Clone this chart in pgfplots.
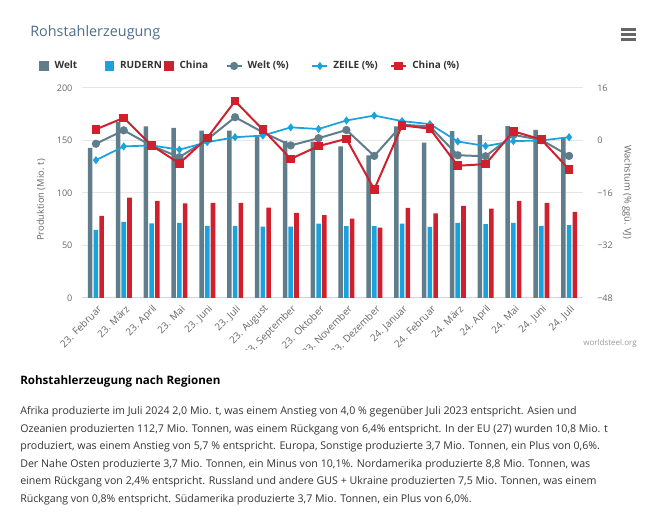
\documentclass[border=0pt]{standalone}
\usepackage{fontspec}
\setmainfont{Open Sans}
\usepackage{pgfplots}
\usepackage{pgfplotstable}
\pgfplotsset{compat=1.18}

\definecolor{welt}{HTML}{607D8B}
\definecolor{rudern}{HTML}{1BA1DB}
\definecolor{china}{HTML}{D0202E}
\definecolor{gridc}{HTML}{E6E6E6}
\definecolor{axisc}{HTML}{CCD6EB}
\definecolor{tickc}{HTML}{666666}
\definecolor{titlec}{HTML}{4D6D8A}
\definecolor{textc}{HTML}{333333}

% monthly production (Mio. t) and growth vs. previous year (%)
\pgfplotstableread{
i welt rudern china weltp zeilep chinap
1  143.0 64.8 78.2 -1.0 -6.0  3.4
2  167.5 72.6 95.6  3.1 -1.8  6.9
3  163.5 71.0 92.5 -1.6 -1.5 -1.5
4  162.0 71.6 90.0 -5.1 -2.8 -7.0
5  159.5 68.8 90.6  0.3 -0.5  0.8
6  159.5 68.8 90.6  7.1  1.0 12.0
7  154.0 67.9 86.0  2.5  1.5  3.3
8  149.5 67.9 81.1 -1.5  4.0 -5.6
9  149.0 70.9 79.0  0.7  3.5 -1.7
10 144.4 68.5 75.7  3.2  6.1  0.5
11 135.8 68.5 66.9 -4.7  7.6 -14.9
12 163.5 70.9 85.9  4.8  5.9  4.6
13 148.0 67.8 80.5  4.3  5.0  3.6
14 159.0 71.6 87.7 -4.5 -0.3 -7.7
15 155.0 70.4 85.2 -4.8 -1.7 -7.2
16 163.8 71.6 92.5  1.7 -0.2  2.8
17 160.2 68.6 90.6  0.2  0.0  0.3
18 152.4 69.3 82.1 -4.7  1.0 -8.8
}\data

\pgfplotsset{
  common/.style={
    at={(61.5pt,174.75pt)}, anchor=south west,
    scale only axis, width=375.75pt, height=157.5pt,
    xmin=0.5, xmax=18.5,
    tick style={draw=none}, major tick length=0pt,
    y axis line style={draw=none},
    yticklabel style={font=\fontsize{6.8}{8}\selectfont, text=tickc, inner sep=0pt},
  },
  squareleg/.style={legend image code/.code={\fill[#1] (0pt,-3.2pt) rectangle (6.4pt,3.2pt); \path (11.25pt,0pt);}},
  mylineleg/.style={legend image code/.code={%
    \draw[mark repeat=2, mark phase=2, ##1] plot coordinates {(0pt,0pt) (5.6pt,0pt) (11.25pt,0pt)};
    \path (15pt,0pt);}},
}

\begin{document}
\begin{tikzpicture}[x=0.75pt,y=0.75pt]
\path[use as bounding box] (0,0) rectangle (662,531);

% header
\node[anchor=base west, inner sep=0pt, text=titlec, font=\fontsize{10.8}{12}\selectfont] at (30,494) {Rohstahlerzeugung};
\fill[tickc] (621,490.2) rectangle (636,492.6);
\fill[tickc] (621,495.3) rectangle (636,497.7);
\fill[tickc] (621,500.4) rectangle (636,502.8);

% bars, left axis
\begin{axis}[common,
    ymin=0, ymax=200,
    ybar=0.9pt, bar width=3.4pt,
    ytick={0,50,100,150,200}, yticklabels={0,50,100,150,200},
    ymajorgrids, grid style={gridc, line width=0.75pt},
    axis x line*=bottom, x axis line style={-, draw=axisc, line width=0.75pt},
    axis y line*=left,
    yticklabel style={anchor=east, xshift=-7pt},
    xtick={1,...,18},
    xticklabels={23. Februar,23. März,23. April,23. Mai,23. Juni,23. Juli,23. August,23. September,23. Oktober,23. November,23. Dezember,24. Januar,24. Februar,24. März,24. April,24. Mai,24. Juni,24. Juli},
    xticklabel style={xshift=3pt, yshift=-7pt, rotate=45, anchor=east, inner sep=0pt,
      font=\fontsize{7.4}{9}\selectfont, text=tickc},
    every axis y label/.style={at={(axis description cs:-0.0818,0.467)}, rotate=90, anchor=center},
    ylabel={Produktion (Mio. t)},
    ylabel style={font=\fontsize{7}{8}\selectfont, text=tickc},
  ]
  \addplot[fill=welt, draw=none] table[x=i, y=welt] {\data};
  \addplot[fill=rudern, draw=none] table[x=i, y=rudern] {\data};
  \addplot[fill=china, draw=none] table[x=i, y=china] {\data};
\end{axis}

% growth lines, right axis
\begin{axis}[common,
    ymin=-48, ymax=16,
    axis x line=none,
    axis y line*=right,
    ytick={-48,-32,-16,0,16}, yticklabels={−48,−32,−16,0,16},
    yticklabel style={anchor=west, xshift=10.5pt},
    every axis y label/.style={at={(axis description cs:1.0878,0.505)}, rotate=-90, anchor=center},
    ylabel={Wachstum (\% ggü. VJ)},
    ylabel style={font=\fontsize{7}{8}\selectfont, text=tickc},
    legend columns=6,
    legend style={at={(axis description cs:-0.0858,1.1048)}, anchor=west,
      draw=none, fill=none, inner sep=0pt, outer sep=0pt,
      nodes={inner sep=0pt, text=textc, font=\bfseries\fontsize{7.5}{9}\selectfont},
      /tikz/every even column/.append style={column sep=0pt}},
    legend cell align=left,
  ]
  \addlegendimage{squareleg=welt}
  \addlegendentry{\makebox[37.5pt][l]{Welt}}
  \addlegendimage{squareleg=rudern}
  \addlegendentry{\makebox[33pt][l]{RUDERN}}
  \addlegendimage{squareleg=china}
  \addlegendentry{\makebox[34.5pt][l]{China}}

  \addplot[welt, line width=1.5pt, mark=*, mark size=2.3pt, mylineleg] table[x=i, y=weltp] {\data};
  \addlegendentry{\makebox[48pt][l]{Welt (\%)}}
  \addplot[rudern, line width=1.3pt, mark=diamond*, mark size=2pt, mylineleg] table[x=i, y=zeilep] {\data};
  \addlegendentry{\makebox[42.75pt][l]{ZEILE (\%)}}
  \addplot[china, line width=1.5pt, mark=square*, mark size=2.5pt, mylineleg] table[x=i, y=chinap] {\data};
  \addlegendentry{China (\%)}
\end{axis}

% chart container clips the long rotated labels
\fill[white] (0,163) rectangle (662,181);
\node[anchor=base east, inner sep=0pt, text=black!40, font=\fontsize{6}{7}\selectfont] at (637,185) {worldsteel.org};

% text below
\node[anchor=base west, inner sep=0pt, text=black, font=\bfseries\fontsize{8.7}{10}\selectfont] at (20,146) {Rohstahlerzeugung nach Regionen};
\begin{scope}[every node/.style={anchor=base west, inner sep=0pt, text=textc, font=\fontsize{7.98}{9}\selectfont}]
\node at (20,116) {Afrika produzierte im Juli 2024 2,0 Mio. t, was einem Anstieg von 4,0 \% gegenüber Juli 2023 entspricht. Asien und};
\node at (20,98.5) {Ozeanien produzierten 112,7 Mio. Tonnen, was einem Rückgang von 6,4\% entspricht. In der EU (27) wurden 10,8 Mio. t};
\node at (20,81) {produziert, was einem Anstieg von 5,7 \% entspricht. Europa, Sonstige produzierte 3,7 Mio. Tonnen, ein Plus von 0,6\%.};
\node at (20,63.5) {Der Nahe Osten produzierte 3,7 Mio. Tonnen, ein Minus von 10,1\%. Nordamerika produzierte 8,8 Mio. Tonnen, was};
\node at (20,46) {einem Rückgang von 2,4\% entspricht. Russland und andere GUS + Ukraine produzierten 7,5 Mio. Tonnen, was einem};
\node at (20,28.5) {Rückgang von 0,8\% entspricht. Südamerika produzierte 3,7 Mio. Tonnen, ein Plus von 6,0\%.};
\end{scope}
\end{tikzpicture}
\end{document}
